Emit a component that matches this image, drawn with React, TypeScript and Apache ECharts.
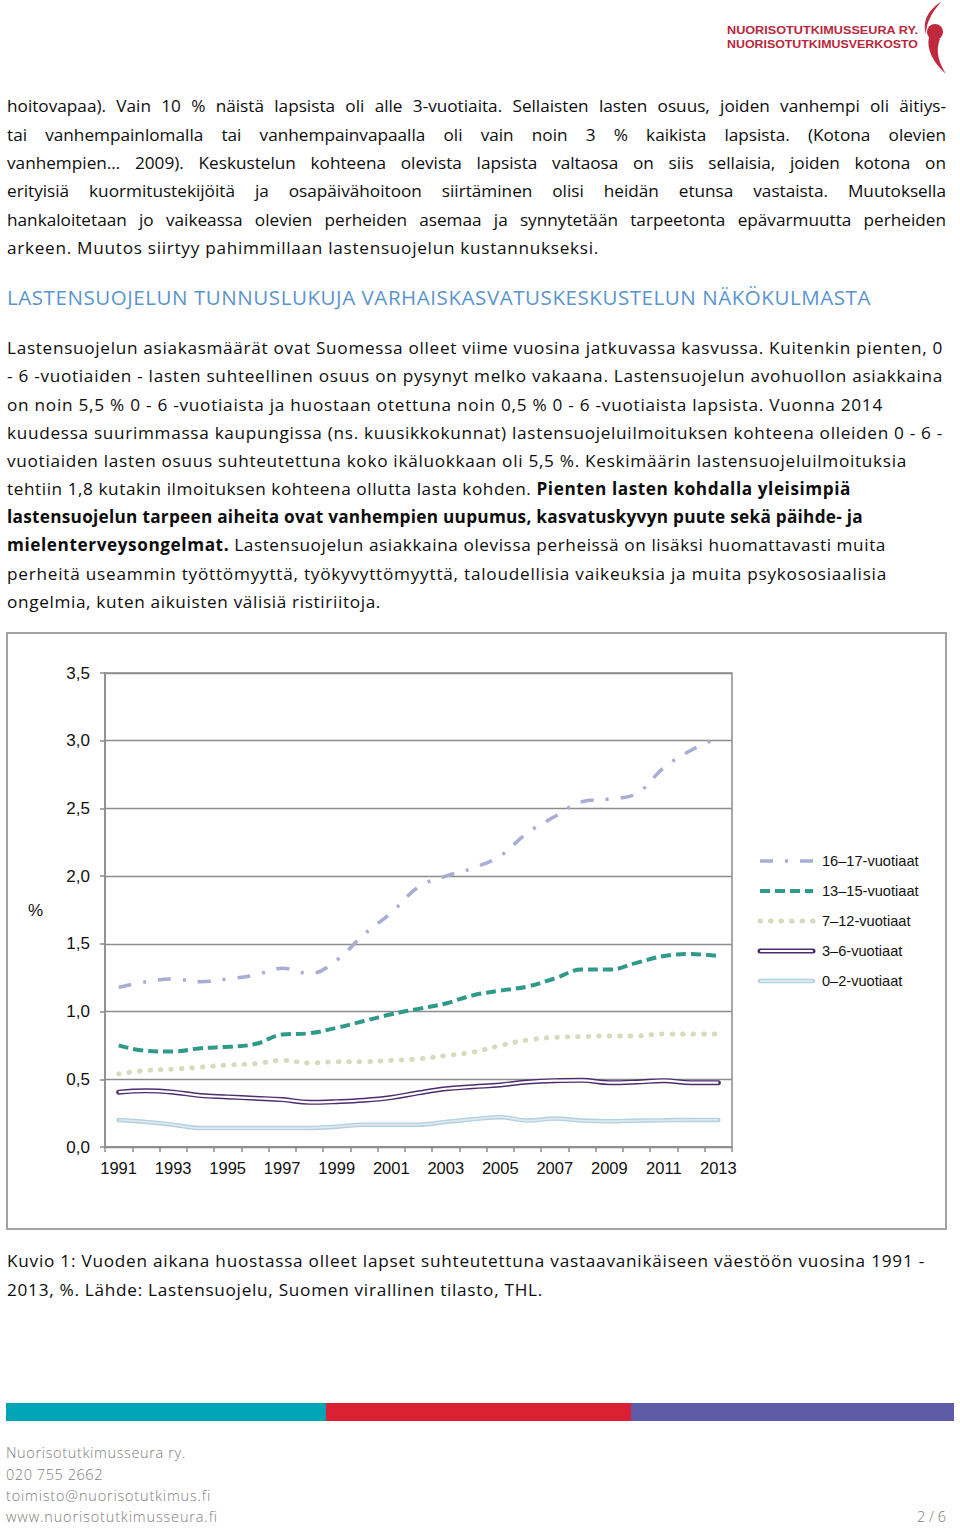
import React, { useEffect, useLayoutEffect, useRef } from 'react';
import * as echarts from 'echarts';

// ---------- chart data ----------
const years = ['1991','1992','1993','1994','1995','1996','1997','1998','1999','2000','2001','2002','2003','2004','2005','2006','2007','2008','2009','2010','2011','2012','2013'];
const age16to17 = [1.18,1.22,1.24,1.22,1.24,1.27,1.32,1.28,1.38,1.57,1.73,1.92,2.00,2.06,2.15,2.32,2.44,2.55,2.57,2.61,2.80,2.93,3.02];
const age13to15 = [0.75,0.71,0.705,0.73,0.74,0.76,0.83,0.84,0.88,0.93,0.98,1.02,1.06,1.12,1.155,1.185,1.245,1.31,1.31,1.36,1.41,1.425,1.41];
const age7to12 = [0.54,0.565,0.575,0.59,0.605,0.615,0.64,0.62,0.63,0.63,0.64,0.65,0.675,0.70,0.75,0.79,0.81,0.815,0.82,0.82,0.835,0.835,0.835];
const age3to6 = [0.405,0.415,0.405,0.38,0.37,0.36,0.35,0.33,0.335,0.345,0.365,0.40,0.43,0.445,0.458,0.48,0.49,0.492,0.475,0.48,0.49,0.475,0.475];
const age0to2 = [0.20,0.185,0.165,0.14,0.14,0.14,0.14,0.14,0.15,0.165,0.165,0.165,0.185,0.205,0.22,0.195,0.21,0.195,0.19,0.195,0.197,0.20,0.20];
const seriesNames = ['16–17-vuotiaat','13–15-vuotiaat','7–12-vuotiaat','3–6-vuotiaat','0–2-vuotiaat'];
const yTickLabels = ['0,0','0,5','1,0','1,5','2,0','2,5','3,0','3,5'];
const yUnit = '%';

// ---------- page text ----------
type Seg = { t: string; b?: boolean };
type Ln = { segs: Seg[]; w: number; just?: boolean };

const para1: Ln[] = [
  { segs: [{ t: 'hoitovapaa). Vain 10 % näistä lapsista oli alle 3-vuotiaita. Sellaisten lasten osuus, joiden vanhempi oli äitiys-' }], w: 939, just: true },
  { segs: [{ t: 'tai vanhempainlomalla tai vanhempainvapaalla oli vain noin 3 % kaikista lapsista. (Kotona olevien' }], w: 939, just: true },
  { segs: [{ t: 'vanhempien… 2009). Keskustelun kohteena olevista lapsista valtaosa on siis sellaisia, joiden kotona on' }], w: 939, just: true },
  { segs: [{ t: 'erityisiä kuormitustekijöitä ja osapäivähoitoon siirtäminen olisi heidän etunsa vastaista. Muutoksella' }], w: 939, just: true },
  { segs: [{ t: 'hankaloitetaan jo vaikeassa olevien perheiden asemaa ja synnytetään tarpeetonta epävarmuutta perheiden' }], w: 939, just: true },
  { segs: [{ t: 'arkeen. Muutos siirtyy pahimmillaan lastensuojelun kustannukseksi.' }], w: 592 },
];

const heading: Ln = { segs: [{ t: 'LASTENSUOJELUN TUNNUSLUKUJA VARHAISKASVATUSKESKUSTELUN NÄKÖKULMASTA' }], w: 864 };

const para2: Ln[] = [
  { segs: [{ t: 'Lastensuojelun asiakasmäärät ovat Suomessa olleet viime vuosina jatkuvassa kasvussa. Kuitenkin pienten, 0' }], w: 936 },
  { segs: [{ t: '- 6 -vuotiaiden - lasten suhteellinen osuus on pysynyt melko vakaana. Lastensuojelun avohuollon asiakkaina' }], w: 936 },
  { segs: [{ t: 'on noin 5,5 % 0 - 6 -vuotiaista ja huostaan otettuna noin 0,5 % 0 - 6 -vuotiaista lapsista. Vuonna 2014' }], w: 876 },
  { segs: [{ t: 'kuudessa suurimmassa kaupungissa (ns. kuusikkokunnat) lastensuojeluilmoituksen kohteena olleiden 0 - 6 -' }], w: 936 },
  { segs: [{ t: 'vuotiaiden lasten osuus suhteutettuna koko ikäluokkaan oli 5,5 %. Keskimäärin lastensuojeluilmoituksia' }], w: 900 },
  { segs: [{ t: 'tehtiin 1,8 kutakin ilmoituksen kohteena ollutta lasta kohden. ' }, { t: 'Pienten lasten kohdalla yleisimpiä', b: true }], w: 844 },
  { segs: [{ t: 'lastensuojelun tarpeen aiheita ovat vanhempien uupumus, kasvatuskyvyn puute sekä päihde- ja', b: true }], w: 856 },
  { segs: [{ t: 'mielenterveysongelmat.', b: true }, { t: ' Lastensuojelun asiakkaina olevissa perheissä on lisäksi huomattavasti muita' }], w: 879 },
  { segs: [{ t: 'perheitä useammin työttömyyttä, työkyvyttömyyttä, taloudellisia vaikeuksia ja muita psykososiaalisia' }], w: 880 },
  { segs: [{ t: 'ongelmia, kuten aikuisten välisiä ristiriitoja.' }], w: 374 },
];

const caption: Ln[] = [
  { segs: [{ t: 'Kuvio 1: Vuoden aikana huostassa olleet lapset suhteutettuna vastaavanikäiseen väestöön vuosina 1991 -' }], w: 918 },
  { segs: [{ t: '2013, %. Lähde: Lastensuojelu, Suomen virallinen tilasto, THL.' }], w: 536 },
];

const footer: Ln[] = [
  { segs: [{ t: 'Nuorisotutkimusseura ry.' }], w: 180 },
  { segs: [{ t: '020 755 2662' }], w: 97 },
  { segs: [{ t: 'toimisto@nuorisotutkimus.fi' }], w: 205 },
  { segs: [{ t: 'www.nuorisotutkimusseura.fi' }], w: 212 },
];
const pageNo = '2 / 6';
const logoLines = ['NUORISOTUTKIMUSSEURA RY.', 'NUORISOTUTKIMUSVERKOSTO'];

const BODY_FONT = '"Open Sans", Lato, sans-serif';
const CHART_FONT = '"Liberation Sans", Arial, sans-serif';
const ASC = 1.069;
const DESC = 0.293;

function topFor(baseline: number, fs: number, lh: number) {
  return baseline - ((lh - (ASC + DESC) * fs) / 2 + ASC * fs);
}

function FitLine({ ln, baseline, fs = 17.2, color = '#0d0d0d', left = 7, weight = 400 }: { ln: Ln; baseline: number; fs?: number; color?: string; left?: number; weight?: number }) {
  const ref = useRef<HTMLDivElement>(null);
  useLayoutEffect(() => {
    const fit = () => {
      const el = ref.current;
      if (!el) return;
      el.style.letterSpacing = '0px';
      el.style.wordSpacing = '0px';
      const w = el.getBoundingClientRect().width;
      const text = ln.segs.map((s) => s.t).join('');
      const extra = ln.w - w;
      const spaces = (text.match(/ /g) || []).length;
      if (ln.just && extra > 0 && spaces > 0) {
        el.style.wordSpacing = extra / spaces + 'px';
      } else {
        el.style.letterSpacing = extra / text.length + 'px';
      }
    };
    fit();
    if ((document as any).fonts && (document as any).fonts.ready) (document as any).fonts.ready.then(fit);
  }, []);
  const lh = Math.round(fs * 1.4);
  return (
    <div
      ref={ref}
      style={{
        position: 'absolute',
        left,
        top: topFor(baseline, fs, lh),
        whiteSpace: 'nowrap',
        fontFamily: BODY_FONT,
        fontSize: fs,
        fontWeight: weight,
        lineHeight: lh + 'px',
        color,
      }}
    >
      {ln.segs.map((s, i) => (
        <span key={i} style={{ fontWeight: s.b ? 700 : weight }}>{s.t}</span>
      ))}
    </div>
  );
}

// legend styles (drawn as graphic legend)
const legendStyles = [
  { stroke: '#a8add4', lineWidth: 3.5, lineDash: [13, 12, 3, 12], lineCap: 'butt' },
  { stroke: '#2f9a87', lineWidth: 4, lineDash: [10, 5], lineCap: 'butt' },
  { stroke: '#d5dcbd', lineWidth: 5, lineDash: [0.5, 10], lineCap: 'round' },
  { stroke: '#4b2c6f', lineWidth: 5, lineCap: 'round' },
  { stroke: '#b5d0de', lineWidth: 4.5, lineCap: 'round' },
];
const innerStyles: Record<number, { stroke: string; lineWidth: number }> = {
  3: { stroke: '#ffffff', lineWidth: 2.2 },
  4: { stroke: '#dbe9f0', lineWidth: 1.8 },
};

function Chart() {
  const ref = useRef<HTMLDivElement>(null);
  useEffect(() => {
    if (!ref.current) return;
    const chart = echarts.init(ref.current, undefined, { renderer: 'svg' });
    const gridColor = '#8c8c8c';
    const base = { type: 'line', smooth: 0.4, symbol: 'none', silent: true };
    const legendX = 754;
    const legendY0 = 229;
    const legendStep = 30;
    const legendGraphics: any[] = [];
    seriesNames.forEach((name, i) => {
      const y = legendY0 + i * legendStep;
      legendGraphics.push({
        type: 'line',
        shape: { x1: legendX, y1: y, x2: legendX + 53, y2: y },
        style: { ...legendStyles[i], fill: 'none' },
        silent: true,
      });
      if (innerStyles[i]) {
        legendGraphics.push({
          type: 'line',
          shape: { x1: legendX + 1, y1: y, x2: legendX + 52, y2: y },
          style: { ...innerStyles[i], lineCap: 'round' },
          z: 101,
          silent: true,
        });
      }
      legendGraphics.push({
        type: 'text',
        x: legendX + 62,
        y,
        style: { text: name, fontFamily: CHART_FONT, fontSize: 14.6, fill: '#111', verticalAlign: 'middle' },
        silent: true,
      });
    });
    const ls = (i: number) => ({ color: legendStyles[i].stroke, width: legendStyles[i].lineWidth, type: (legendStyles[i] as any).lineDash || 'solid', cap: legendStyles[i].lineCap });
    chart.setOption({
      animation: false,
      backgroundColor: '#fff',
      grid: { left: 99, top: 41, width: 627, height: 474, show: true, borderColor: gridColor, borderWidth: 1.5, backgroundColor: 'transparent' },
      xAxis: {
        type: 'category',
        data: years,
        boundaryGap: true,
        axisLine: { lineStyle: { color: gridColor, width: 1.5 } },
        axisTick: { show: true, length: 5, interval: 0, lineStyle: { color: gridColor, width: 1.5 } },
        axisLabel: { interval: 1, margin: 12, fontFamily: CHART_FONT, fontSize: 16.5, color: '#111' },
      },
      yAxis: {
        type: 'value',
        min: 0,
        max: 3.5,
        interval: 0.5,
        axisLine: { show: true, lineStyle: { color: gridColor, width: 1.5 } },
        axisTick: { show: true, length: 5, lineStyle: { color: gridColor, width: 1.5 } },
        splitLine: { show: true, lineStyle: { color: gridColor, width: 1.3 } },
        axisLabel: {
          margin: 15,
          fontFamily: CHART_FONT,
          fontSize: 17,
          color: '#111',
          formatter: (v: number) => yTickLabels[Math.round(v / 0.5)] ?? '',
        },
      },
      graphic: [
        { type: 'rect', shape: { x: 1, y: 1, width: 939, height: 596 }, style: { fill: 'none', stroke: '#a3a3a3', lineWidth: 2 }, silent: true },
        { type: 'text', x: 22, y: 278, style: { text: yUnit, fontFamily: CHART_FONT, fontSize: 17, fill: '#111', verticalAlign: 'middle' }, silent: true },
        ...legendGraphics,
      ],
      series: [
        { ...base, name: seriesNames[0], data: age16to17, z: 5, lineStyle: ls(0) },
        { ...base, name: seriesNames[1], data: age13to15, z: 5, lineStyle: ls(1) },
        { ...base, name: seriesNames[2], data: age7to12, z: 5, lineStyle: ls(2) },
        { ...base, name: seriesNames[3], data: age3to6, z: 5, lineStyle: ls(3) },
        { ...base, name: seriesNames[3] + ' (sisä)', data: age3to6, z: 6, lineStyle: { color: innerStyles[3].stroke, width: innerStyles[3].lineWidth } },
        { ...base, name: seriesNames[4], data: age0to2, z: 4, lineStyle: ls(4) },
        { ...base, name: seriesNames[4] + ' (sisä)', data: age0to2, z: 4, lineStyle: { color: innerStyles[4].stroke, width: innerStyles[4].lineWidth } },
      ],
    });
    return () => chart.dispose();
  }, []);
  return <div ref={ref} style={{ position: 'absolute', left: 6, top: 632, width: 941, height: 598 }} />;
}

function Logo() {
  return (
    <svg style={{ position: 'absolute', left: 0, top: 0 }} width={960} height={80} viewBox="0 0 960 80">
      <text x={727} y={34} textLength={191} lengthAdjust="spacingAndGlyphs" fontFamily={CHART_FONT} fontWeight={700} fontSize={10} fill="#b8283c">{logoLines[0]}</text>
      <text x={727} y={48} textLength={191} lengthAdjust="spacingAndGlyphs" fontFamily={CHART_FONT} fontWeight={700} fontSize={10} fill="#b8283c">{logoLines[1]}</text>
      <path d="M941 2 C929 9 922 21 926 34 C926 23 932 12 941 2 Z" fill="#c0293d" />
      <circle cx={935} cy={32} r={8} fill="#c0293d" />
      <path d="M929 37 C926 50 934 63 946 74 C939 63 935 51 940 39 Z" fill="#c0293d" />
    </svg>
  );
}

export default function App() {
  useEffect(() => {
    document.body.style.margin = '0';
  }, []);
  return (
    <div style={{ position: 'absolute', left: 0, top: 0, width: 960, height: 1529, background: '#fff', overflow: 'hidden' }}>
      <Logo />
      {para1.map((ln, i) => <FitLine key={'a' + i} ln={ln} baseline={113 + i * 28.3} />)}
      <FitLine ln={heading} baseline={305} fs={20.5} color="#5a94d0" />
      {para2.map((ln, i) => <FitLine key={'b' + i} ln={ln} baseline={355 + i * 28.15} />)}
      <Chart />
      {caption.map((ln, i) => <FitLine key={'c' + i} ln={ln} baseline={1268 + i * 28.2} />)}
      <div style={{ position: 'absolute', left: 6, top: 1403, width: 320, height: 18, background: '#00a5b5' }} />
      <div style={{ position: 'absolute', left: 326, top: 1403, width: 305, height: 18, background: '#da2033' }} />
      <div style={{ position: 'absolute', left: 631, top: 1403, width: 323, height: 18, background: '#5e5ba8' }} />
      {footer.map((ln, i) => (
        <FitLine key={'f' + i} ln={ln} baseline={1459 + i * 21.3} fs={14.5} left={6} weight={300} color="#7d7d7d" />
      ))}
      <div
        style={{
          position: 'absolute',
          right: 14,
          top: topFor(1459 + 3 * 21.3, 14.5, 20),
          fontFamily: BODY_FONT,
          fontWeight: 300,
          fontSize: 14.5,
          lineHeight: '20px',
          color: '#7d7d7d',
          whiteSpace: 'nowrap',
        }}
      >
        {pageNo}
      </div>
    </div>
  );
}
